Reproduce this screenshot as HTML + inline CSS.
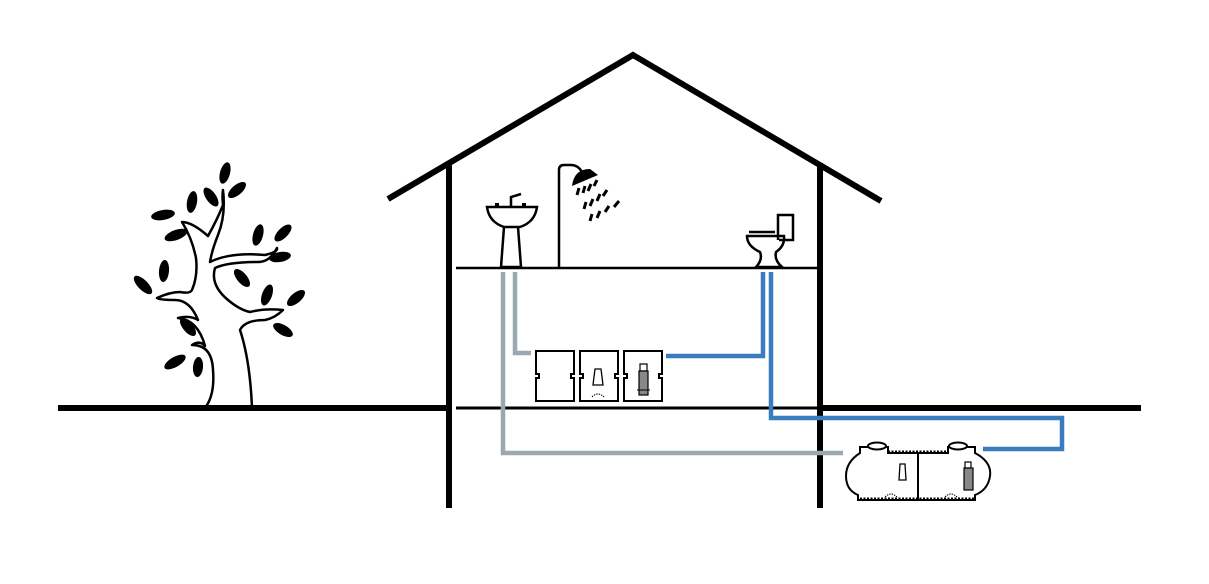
<!DOCTYPE html>
<html><head><meta charset="utf-8"><style>html,body{margin:0;padding:0;background:#fff}svg{display:block}</style></head>
<body>
<svg width="1209" height="584" viewBox="0 0 1209 584" xmlns="http://www.w3.org/2000/svg">
<rect width="1209" height="584" fill="#fff"/>
<line x1="58" y1="408" x2="449" y2="408" stroke="#000" stroke-width="6"/>
<line x1="820" y1="408" x2="1141" y2="408" stroke="#000" stroke-width="6"/>
<line x1="456" y1="408" x2="820" y2="408" stroke="#000" stroke-width="3"/>
<line x1="456" y1="268" x2="818" y2="268" stroke="#000" stroke-width="2.5"/>
<line x1="449" y1="163" x2="449" y2="508" stroke="#000" stroke-width="6"/>
<line x1="820" y1="163" x2="820" y2="508" stroke="#000" stroke-width="6"/>
<polyline points="388,199 633,55 881,201" fill="none" stroke="#000" stroke-width="6"/>
<polyline points="503,272 503,453 843,453" fill="none" stroke="#9aa8b2" stroke-width="4.5"/>
<polyline points="515,272 515,353 531,353" fill="none" stroke="#9aa8b2" stroke-width="4.5"/>
<polyline points="763,272 763,356 666,356" fill="none" stroke="#3a7dbf" stroke-width="4.5"/>
<polyline points="771,272 771,418 1062,418 1062,449 983,449" fill="none" stroke="#3a7dbf" stroke-width="4.5"/>
<g fill="#fff" stroke="#000" stroke-width="2">
<path d="M536,351 H574 V374 H571 V378 H574 V401 H536 V378 H539 V374 H536 Z"/>
<path d="M580,351 H618 V374 H615 V378 H618 V401 H580 V378 H583 V374 H580 Z"/>
<path d="M624,351 H662 V374 H659 V378 H662 V401 H624 V378 H627 V374 H624 Z"/>
</g>
<path d="M595,369 H601 L603,385 H593 Z" fill="none" stroke="#000" stroke-width="1.3"/>
<path d="M592,397 q6,-6 12,0" fill="none" stroke="#000" stroke-width="1" stroke-dasharray="1.5 1"/>
<rect x="640" y="364" width="7" height="7" fill="none" stroke="#000" stroke-width="1.2"/>
<rect x="639" y="371" width="9" height="24" fill="#888" stroke="#000" stroke-width="1.2"/>
<line x1="637" y1="390" x2="650" y2="390" stroke="#000" stroke-width="1"/>
<g fill="none" stroke="#000" stroke-width="2">
<path d="M860,447 H888 V453 H948 V447 H975 V453 Q992,462 990,476 Q988,490 975,495 V500 H858 V495 Q846,490 846,476 Q846,462 860,453 Z" fill="#fff"/>
<ellipse cx="877" cy="446" rx="9" ry="3.5" fill="#fff"/>
<ellipse cx="958" cy="446" rx="9" ry="3.5" fill="#fff"/>
<line x1="918" y1="453" x2="918" y2="500"/>
<line x1="888" y1="452" x2="948" y2="452" stroke-dasharray="2 1.5" stroke-width="3"/>
<line x1="860" y1="499" x2="975" y2="499" stroke-dasharray="2 1.5" stroke-width="3"/>
</g>
<path d="M900,464 H905 L906,480 H899 Z" fill="none" stroke="#000" stroke-width="1.3"/>
<path d="M885,497 q6,-6 12,0" fill="none" stroke="#000" stroke-width="1" stroke-dasharray="1.5 1"/>
<path d="M945,497 q6,-6 12,0" fill="none" stroke="#000" stroke-width="1" stroke-dasharray="1.5 1"/>
<rect x="965" y="462" width="6" height="6" fill="none" stroke="#000" stroke-width="1.2"/>
<rect x="964" y="468" width="9" height="22" fill="#888" stroke="#000" stroke-width="1.2"/>
<!-- sink -->
<g fill="none" stroke="#000" stroke-width="2.5">
<path d="M487,207 H537 Q535,222 520,227 H504 Q489,222 487,207 Z"/>
<path d="M504,227 L501,267 H521 L518,227"/>
<path d="M511,206 V197 L521,194"/>
</g>
<rect x="495" y="203" width="4" height="4" fill="#000"/>
<rect x="522" y="203" width="4" height="4" fill="#000"/>
<!-- shower -->
<path d="M559,268 V170 Q559,165 564,165 H571 Q578,165 582,172" fill="none" stroke="#000" stroke-width="2.5"/>
<path d="M572,186 Q574,169 590,169 L598,175 Z" fill="#000"/>
<g stroke="#000" stroke-width="3">
<line x1="579" y1="188" x2="577" y2="195"/><line x1="585" y1="186" x2="583" y2="193"/><line x1="591" y1="184" x2="588" y2="191"/><line x1="597" y1="180" x2="594" y2="186"/>
<line x1="586" y1="202" x2="584" y2="209"/><line x1="593" y1="199" x2="590" y2="206"/><line x1="600" y1="194" x2="597" y2="201"/><line x1="607" y1="190" x2="603" y2="196"/>
<line x1="592" y1="214" x2="590" y2="221"/><line x1="600" y1="211" x2="597" y2="218"/><line x1="609" y1="206" x2="605" y2="212"/><line x1="619" y1="201" x2="614" y2="207"/>
</g>
<!-- toilet -->
<g fill="none" stroke="#000" stroke-width="2.5">
<path d="M778,240 V215 H793 V240 H779"/>
<line x1="749" y1="232" x2="775" y2="232"/>
<path d="M747,236 H784 Q785,246 776,252 Q774,260 782,267 H756 Q763,260 760,252 Q747,246 747,236 Z"/>
</g>
<!-- tree -->
<g fill="none" stroke="#000" stroke-width="2.5" stroke-linejoin="round">
<path d="M205,408 Q215,395 213,370 Q212,345 192,345 Q200,340 205,346 Q198,320 178,318 Q190,315 198,320 Q190,300 175,300 Q160,300 157,298 Q170,292 180,292 Q190,294 192,290 Q198,276 196,258 Q192,238 182,222 Q192,222 208,236 Q217,220 223,205 Q222,195 223,190 Q226,215 218,235 Q212,250 210,262 Q230,252 265,255 Q278,252 277,248 Q270,262 258,262 Q228,262 215,268 Q210,285 228,300 Q240,310 250,312 Q265,308 283,310 Q275,318 265,320 Q245,320 240,330 Q250,360 252,408"/>
</g>
<line x1="200" y1="408" x2="257" y2="408" stroke="#000" stroke-width="6"/>
<g fill="#000">
<ellipse cx="225" cy="173" rx="5" ry="11" transform="rotate(15 225 173)"/>
<ellipse cx="211" cy="197" rx="5" ry="11" transform="rotate(-35 211 197)"/>
<ellipse cx="237" cy="190" rx="5" ry="11" transform="rotate(50 237 190)"/>
<ellipse cx="192" cy="202" rx="5" ry="11" transform="rotate(10 192 202)"/>
<ellipse cx="163" cy="215" rx="5" ry="12" transform="rotate(80 163 215)"/>
<ellipse cx="176" cy="235" rx="5" ry="12" transform="rotate(70 176 235)"/>
<ellipse cx="258" cy="235" rx="5" ry="11" transform="rotate(15 258 235)"/>
<ellipse cx="283" cy="233" rx="5" ry="11" transform="rotate(45 283 233)"/>
<ellipse cx="280" cy="257" rx="5" ry="11" transform="rotate(80 280 257)"/>
<ellipse cx="242" cy="278" rx="5" ry="11" transform="rotate(-40 242 278)"/>
<ellipse cx="164" cy="271" rx="5" ry="11" transform="rotate(5 164 271)"/>
<ellipse cx="143" cy="285" rx="5" ry="12" transform="rotate(-45 143 285)"/>
<ellipse cx="267" cy="295" rx="5" ry="11" transform="rotate(20 267 295)"/>
<ellipse cx="296" cy="298" rx="5" ry="11" transform="rotate(50 296 298)"/>
<ellipse cx="283" cy="330" rx="5" ry="11" transform="rotate(-60 283 330)"/>
<ellipse cx="188" cy="327" rx="5" ry="11" transform="rotate(-40 188 327)"/>
<ellipse cx="175" cy="362" rx="5" ry="12" transform="rotate(60 175 362)"/>
<ellipse cx="198" cy="367" rx="5" ry="10" transform="rotate(5 198 367)"/>
</g>
</svg>
</body></html>
